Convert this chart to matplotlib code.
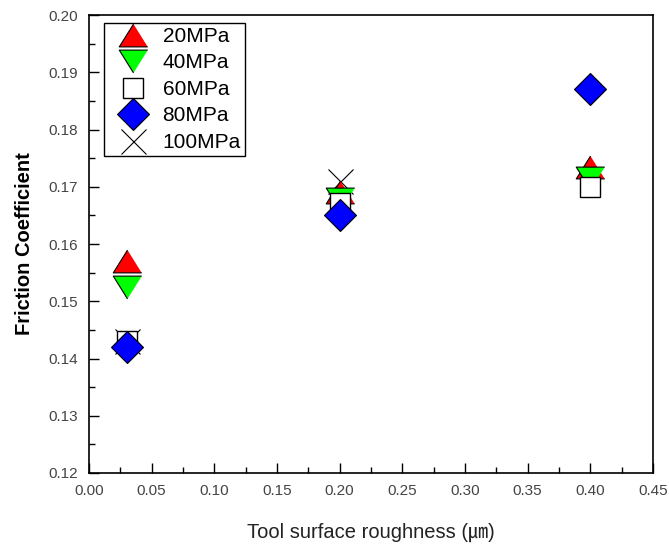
import numpy as np
import matplotlib
matplotlib.use("Agg")
import matplotlib.pyplot as plt
from matplotlib.ticker import MultipleLocator

plt.rcParams['font.family'] = ['Liberation Sans', 'Noto Sans CJK KR', 'DejaVu Sans']

roughness = [0.03, 0.2, 0.4]
p20 = [0.157, 0.169, 0.1735]
p40 = [0.1525, 0.1678, 0.1715]
p60 = [0.143, 0.1672, 0.1700]
p80 = [0.142, 0.165, 0.187]
p100 = [0.143, 0.171, np.nan]
labels = ['20MPa', '40MPa', '60MPa', '80MPa', '100MPa']

fig = plt.figure(figsize=(6.69, 5.44), dpi=100)
ax = fig.add_axes([89/669, 71/544, 564/669, 458/544])

tri_up = [(0, 0.8), (-1, -0.8), (1, -0.8)]
tri_dn = [(0, -0.8), (-1, 0.8), (1, 0.8)]

h20, = ax.plot(roughness, p20, linestyle='none', marker=tri_up, ms=20.5, mfc='#ff0000', mec='black', mew=0.8, zorder=3)
h40, = ax.plot(roughness, p40, linestyle='none', marker=tri_dn, ms=20.5, mfc='#00ff00', mec='black', mew=0.8, zorder=4)
h60, = ax.plot(roughness, p60, linestyle='none', marker='s', ms=14.5, mfc='white', mec='black', mew=1.0, zorder=5)
h80, = ax.plot(roughness, p80, linestyle='none', marker='D', ms=16, mfc='#0000ff', mec='black', mew=0.8, zorder=6)
h100, = ax.plot(roughness, p100, linestyle='none', marker='x', ms=18, mec='black', mew=0.8, zorder=2)

ax.set_xlim(0, 0.45)
ax.set_ylim(0.12, 0.20)
ax.xaxis.set_major_locator(MultipleLocator(0.05))
ax.xaxis.set_minor_locator(MultipleLocator(0.025))
ax.yaxis.set_major_locator(MultipleLocator(0.01))
ax.yaxis.set_minor_locator(MultipleLocator(0.005))
ax.xaxis.set_major_formatter(plt.FormatStrFormatter('%.2f'))
ax.yaxis.set_major_formatter(plt.FormatStrFormatter('%.2f'))
ax.tick_params(which='both', direction='in', top=False, right=False, colors='black',
               labelcolor='#444444', labelsize=11, width=1)
ax.tick_params(which='major', length=7, pad=8)
ax.tick_params(which='minor', length=4)
for s in ax.spines.values():
    s.set_linewidth(1.2)

ax.set_xlabel('Tool surface roughness (㎛)', fontsize=14.5, color='#222222', labelpad=18)
ax.set_ylabel('Friction Coefficient', fontsize=14.5, fontweight='bold', labelpad=10)

leg = ax.legend([h20, h40, h60, h80, h100], labels, loc='upper left',
                bbox_to_anchor=(0.027, 0.983), borderaxespad=0, fancybox=False,
                framealpha=1, edgecolor='black', fontsize=15, labelspacing=0.36,
                handletextpad=0.2, borderpad=0.2, handlelength=2.4)
leg.get_frame().set_linewidth(1.0)

fig.savefig('out.png', dpi=100)
